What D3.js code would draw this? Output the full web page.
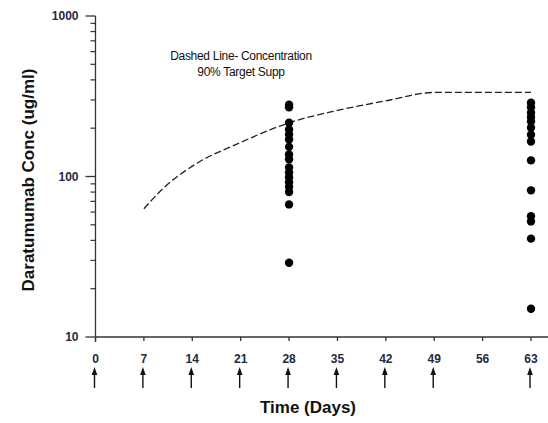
<!DOCTYPE html>
<meta charset="utf-8">
<script src="https://d3js.org/d3.v7.min.js"></script>
<style>
  body { margin: 0; background: #fff; }
  text { font-family: "Liberation Sans", Arial, sans-serif; }
</style>
<svg id="chart" width="548" height="423"></svg>
<script>
  // data
  var dayTicks = [0, 7, 14, 21, 28, 35, 42, 49, 56, 63];
  var doseDays = [0, 7, 14, 21, 28, 35, 42, 49, 63];
  var yTicks = [10, 100, 1000];

  // dashed line - concentration for 90% target suppression
  var curveDays = [7, 10, 14, 21, 28, 35, 42, 49, 63];
  var curveConc = [63, 86, 116, 163, 216, 258, 296, 334, 334];

  // observed concentrations
  var day28Conc = [280, 270, 216, 196, 183, 170, 153, 137, 128, 114, 106, 99, 92, 86, 80, 67, 29];
  var day63Conc = [288, 270, 250, 235, 220, 201, 182, 165, 126, 82, 56.5, 52.5, 41, 15];

  var svg = d3.select("svg");
  var ink = "#222a3f";

  var x = d3.scaleLinear().domain([0, 63]).range([95.5, 531]);
  var y = d3.scaleLog().domain([10, 1000]).range([337, 16]);

  // y axis with log minor ticks
  var minor = [];
  [10, 100].forEach(function(d) { for (var k = 2; k < 10; k++) minor.push(d * k); });

  var gy = svg.append("g").attr("transform", "translate(" + x(0) + ",0)");
  gy.append("line").attr("y1", y(1000)).attr("y2", 342).attr("stroke", "#333").attr("stroke-width", 1.3);
  gy.selectAll(".maj").data(yTicks).enter().append("line")
    .attr("x1", -10).attr("x2", 0)
    .attr("y1", function(d) { return y(d); }).attr("y2", function(d) { return y(d); })
    .attr("stroke", "#333").attr("stroke-width", 1.3);
  gy.selectAll(".min").data(minor).enter().append("line")
    .attr("x1", -5).attr("x2", 0)
    .attr("y1", function(d) { return y(d); }).attr("y2", function(d) { return y(d); })
    .attr("stroke", "#333").attr("stroke-width", 1.2);
  gy.selectAll(".lab").data(yTicks).enter().append("text")
    .attr("x", -17).attr("y", function(d) { return y(d); }).attr("dy", "0.35em")
    .attr("text-anchor", "end").attr("font-size", 12).attr("font-weight", "bold")
    .attr("fill", ink).text(function(d) { return d; });

  // x axis
  var gx = svg.append("g").attr("transform", "translate(0," + y(10) + ")");
  gx.append("line").attr("x1", x(0)).attr("x2", 548).attr("stroke", "#333").attr("stroke-width", 1.3);
  gx.selectAll(".tk").data(dayTicks).enter().append("line")
    .attr("x1", function(d) { return x(d); }).attr("x2", function(d) { return x(d); })
    .attr("y1", 0).attr("y2", 4).attr("stroke", "#333").attr("stroke-width", 1.3);
  gx.selectAll(".lab").data(dayTicks).enter().append("text")
    .attr("x", function(d) { return x(d); }).attr("y", 26)
    .attr("text-anchor", "middle").attr("font-size", 12).attr("font-weight", "bold")
    .attr("fill", ink).text(function(d) { return d; });

  // dosing arrows
  var ga = svg.append("g");
  doseDays.forEach(function(d) {
    var cx = x(d) - 1;
    ga.append("line").attr("x1", cx).attr("x2", cx).attr("y1", 372).attr("y2", 388)
      .attr("stroke", "#111").attr("stroke-width", 1.4);
    ga.append("path")
      .attr("d", "M" + (cx - 2.8) + ",375 L" + cx + ",367 L" + (cx + 2.8) + ",375 Z")
      .attr("fill", "#111");
  });

  // dashed concentration curve
  var line = d3.line()
    .x(function(d, i) { return x(curveDays[i]); })
    .y(function(d) { return y(d); })
    .curve(d3.curveMonotoneX);
  svg.append("path").datum(curveConc)
    .attr("d", line).attr("fill", "none")
    .attr("stroke", "#222").attr("stroke-width", 1.3)
    .attr("stroke-dasharray", "7,3");

  // observed points
  var pts = day28Conc.map(function(c) { return { day: 28, conc: c }; })
    .concat(day63Conc.map(function(c) { return { day: 63, conc: c }; }));
  svg.append("g").selectAll("circle").data(pts).enter().append("circle")
    .attr("cx", function(d) { return x(d.day); })
    .attr("cy", function(d) { return y(d.conc); })
    .attr("r", 4.2).attr("fill", "#000");

  // annotation
  var note = svg.append("text").attr("text-anchor", "middle").attr("font-size", 12)
    .attr("fill", "#111").attr("letter-spacing", "-0.3");
  note.append("tspan").attr("x", 241).attr("y", 60).text("Dashed Line- Concentration");
  note.append("tspan").attr("x", 241).attr("y", 76).text("90% Target Supp");

  // axis titles
  svg.append("text").attr("x", 308).attr("y", 413)
    .attr("text-anchor", "middle").attr("font-size", 17).attr("font-weight", "bold")
    .attr("fill", "#111").text("Time (Days)");
  svg.append("text")
    .attr("transform", "translate(34,180) rotate(-90)")
    .attr("text-anchor", "middle").attr("font-size", 17).attr("font-weight", "bold")
    .attr("fill", "#111").text("Daratumumab Conc (ug/ml)");
</script>
